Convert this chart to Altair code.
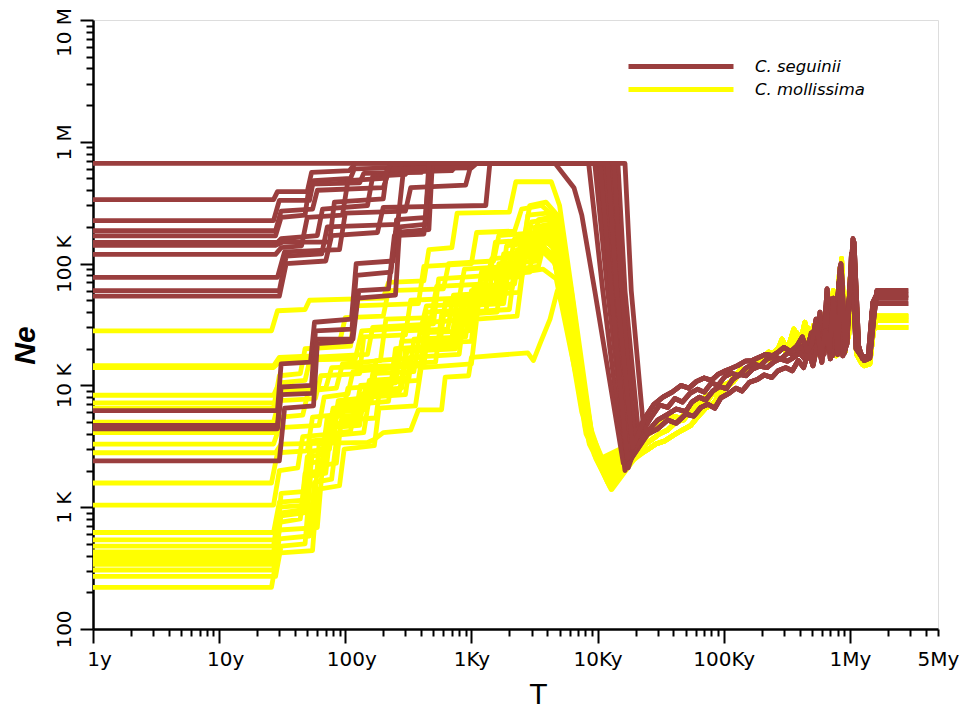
import altair as alt
import pandas as pd

BROWN = "#9A3E3E"
YELLOW = "#FFFF00"
SPECIES = ["C. seguinii", "C. mollissima"]

# ---- ancient (shared) parts of the trajectories: [T (years), Ne] ----
tail_s_a = [[25000,4200],[30000,5200],[36000,5800],[42000,6400],[50000,6100],[56000,7300],[64000,8000],[72000,7600],[82000,9000],[93000,9800],[105000,9400],[118000,11200],[134000,12300],[150000,12000],[170000,13600],[193000,14400],[220000,14000],[250000,15600],[280000,16500],[320000,15800],[360000,17000],[400000,18500],[440000,16500],[480000,24000],[520000,17000],[575000,30000],[610000,17500],[660000,62000],[720000,18000],[790000,40000],[840000,95000],[900000,19000],[960000,30000],[1060000,160000],[1160000,22000],[1260000,16500],[1420000,17000],[1520000,48000],[1620000,55000],[2900000,55000]]
tail_s_b = [[25000,4000],[30000,4400],[36000,5200],[42000,4900],[50000,5800],[58000,5600],[66000,6600],[75000,7000],[85000,6500],[95000,7900],[110000,8600],[125000,9500],[140000,9000],[160000,10600],[185000,11200],[210000,12200],[240000,11600],[270000,13200],[310000,14000],[350000,13200],[390000,16000],[430000,14000],[470000,19000],[510000,14500],[560000,23000],[600000,15500],[650000,45000],[700000,16500],[760000,25000],[820000,70000],[880000,17500],[950000,22000],[1030000,120000],[1120000,20000],[1250000,17000],[1400000,17500],[1500000,40000],[1580000,47000],[2900000,47000]]
tail_s_c = [[24000,5500],[28000,7000],[33000,8000],[39000,8800],[46000,10000],[53000,9500],[61000,10800],[70000,11500],[80000,11000],[90000,12300],[100000,13000],[115000,13800],[130000,14600],[148000,15800],[168000,16000],[190000,17000],[215000,18000],[245000,17600],[275000,19000],[300000,20500],[340000,19000],[380000,21000],[420000,25000],[460000,19000],[500000,22000],[540000,35000],[590000,17200],[640000,28000],[690000,19000],[740000,52000],[800000,18000],[860000,85000],[920000,20000],[1000000,60000],[1080000,150000],[1180000,19000],[1300000,16000],[1440000,16800],[1550000,36000],[1640000,60000],[2900000,60000]]
tail_s_d = [[24000,4600],[27000,5600],[31000,6900],[36000,6600],[41000,7800],[47000,7300],[54000,8600],[62000,9300],[70000,8800],[80000,10500],[90000,10000],[102000,11800],[116000,12600],[132000,12000],[150000,13900],[170000,15000],[195000,14500],[220000,16400],[250000,17300],[285000,16500],[325000,18600],[365000,17600],[410000,21000],[455000,17900],[495000,27000],[535000,18300],[580000,40000],[625000,18000],[680000,52000],[730000,17500],[790000,33000],[850000,100000],[910000,18500],[990000,45000],[1070000,140000],[1170000,20000],[1280000,16800],[1430000,17300],[1530000,42000],[1610000,52000],[2900000,52000]]

tail_m_a = [[24000,3800],[28000,4300],[33000,5000],[39000,5600],[46000,5400],[53000,6500],[61000,7000],[70000,7900],[80000,8600],[90000,8300],[100000,10000],[115000,10800],[130000,12500],[148000,13000],[168000,14600],[190000,15400],[215000,17500],[245000,16500],[275000,20000],[300000,22000],[340000,19000],[380000,27000],[420000,20000],[460000,30000],[500000,21000],[540000,33000],[590000,18500],[640000,40000],[690000,19000],[740000,60000],[800000,18000],[860000,110000],[920000,19000],[1000000,50000],[1080000,130000],[1180000,17000],[1300000,14500],[1440000,15000],[1550000,30000],[1640000,37000],[2900000,37000]]
tail_m_b = [[24000,2900],[29000,3300],[34000,3500],[40000,3900],[47000,4300],[55000,4700],[63000,5600],[72000,6500],[82000,7000],[93000,8400],[105000,9600],[120000,10800],[136000,12900],[155000,13800],[175000,15800],[200000,16600],[228000,18800],[260000,18000],[290000,24000],[320000,19500],[360000,29000],[400000,21000],[440000,33000],[480000,20500],[530000,26000],[570000,18000],[620000,30000],[670000,20000],[720000,45000],[780000,17500],[840000,75000],[900000,18500],[980000,26000],[1050000,100000],[1140000,19000],[1260000,15500],[1400000,16000],[1520000,28000],[1600000,30000],[2900000,30000]]
tail_m_c = [[24000,3300],[27000,3600],[31000,4000],[36000,4300],[42000,5000],[48000,5200],[55000,6200],[63000,7000],[72000,7100],[82000,8600],[94000,10200],[108000,9900],[122000,12000],[138000,13600],[156000,13100],[176000,15300],[200000,17000],[225000,16200],[255000,19000],[285000,21500],[315000,18500],[350000,26000],[390000,20500],[430000,28000],[470000,19500],[515000,31000],[560000,19000],[610000,36000],[660000,19500],[710000,50000],[770000,18500],[830000,90000],[890000,19000],[960000,40000],[1040000,115000],[1130000,18000],[1250000,15000],[1390000,15500],[1500000,26000],[1600000,34000],[2900000,34000]]

# ---- recent parts, C. seguinii ----
s01 = [[1,665000],[14000,665000],[16000,60000],[19500,3000]]
s02 = [[1,335000],[27,335000],[29,390000],[50,390000],[54,560000],[108,580000],[120,665000],[10000,665000],[12500,60000],[17000,2200]]
s03 = [[1,225000],[27,225000],[30,330000],[52,330000],[56,480000],[110,500000],[118,600000],[390,620000],[420,665000],[12000,665000],[14000,60000],[18500,2600]]
s04 = [[1,186000],[28,186000],[31,270000],[55,280000],[60,400000],[200,420000],[220,560000],[700,580000],[780,665000],[8500,665000],[11000,60000],[16500,2000]]
s05 = [[1,169000],[28,169000],[31,240000],[48,250000],[52,450000],[130,460000],[140,550000],[400,560000],[440,665000],[13000,665000],[15000,60000],[19000,3300]]
s06 = [[1,149000],[29,149000],[31,160000],[60,170000],[66,280000],[150,300000],[165,520000],[300,540000],[330,665000],[11000,665000],[13000,60000],[18000,2400]]
s07 = [[1,141000],[28,141000],[32,150000],[75,150000],[82,320000],[200,340000],[215,600000],[1000,610000],[1100,665000],[9500,665000],[12000,60000],[17500,2100]]
s08 = [[1,119000],[28,119000],[31,135000],[45,140000],[50,240000],[95,250000],[105,480000],[200,500000],[230,665000],[14500,665000],[16500,60000],[21000,4300]]
s09 = [[1,77000],[29,77000],[33,125000],[90,130000],[100,260000],[300,270000],[330,420000],[900,440000],[1000,665000],[12500,665000],[14500,60000],[20000,3600]]
s10 = [[1,60000],[30,60000],[34,115000],[65,120000],[72,200000],[260,210000],[290,600000],[450,610000],[480,665000],[4600,665000],[6500,420000],[7500,250000],[9500,60000],[16000,2300]]
s11 = [[1,54000],[30,54000],[34,100000],[70,105000],[78,170000],[180,180000],[200,290000],[1300,300000],[1400,665000],[13500,665000],[15500,60000],[19500,3900]]
s12 = [[1,6200],[29,6200],[31,15000],[53,15500],[57,33000],[112,35000],[122,100000],[240,105000],[255,230000],[450,240000],[480,665000],[11500,665000],[13500,60000],[18000,2800]]
s13 = [[1,4700],[29,4700],[31,9700],[54,10000],[58,28000],[113,29000],[122,80000],[230,85000],[250,180000],[460,190000],[490,665000],[10500,665000],[12800,60000],[17200,2500]]
s14 = [[1,4400],[29,4400],[31,8400],[55,8600],[59,24000],[115,24000],[128,60000],[220,62000],[245,170000],[420,175000],[470,665000],[16500,665000],[18500,60000],[23000,4800]]
s15 = [[1,2400],[30,2400],[33,6500],[56,6800],[60,22000],[112,23000],[125,52000],[250,55000],[270,200000],[430,210000],[460,665000],[12000,665000],[14200,60000],[19000,3100]]

# ---- recent parts, C. mollissima ----
m01 = [[1,28000],[26,28000],[29,41000],[48,42000],[52,50000],[200,52000],[220,70000],[420,72000],[460,130000],[700,135000],[770,260000],[2000,265000],[2250,470000],[4300,470000],[5000,300000],[6400,50000],[9000,4000],[11500,2200]]
m02 = [[1,14500],[27,14500],[30,17000],[55,17500],[60,22000],[90,22500],[100,36000],[200,37000],[220,60000],[600,62000],[660,100000],[1500,105000],[1650,170000],[3500,180000],[4800,160000],[6500,25000],[9000,3500],[11000,2000]]
m03 = [[1,14000],[27,14000],[31,16000],[120,16500],[135,28000],[400,30000],[440,45000],[1200,47000],[1350,90000],[2500,95000],[2800,250000],[4000,260000],[5000,180000],[6500,30000],[9500,2800],[12000,1600]]
m04 = [[1,8300],[27,8300],[30,10500],[48,11000],[53,17000],[150,18000],[165,30000],[500,32000],[550,75000],[1400,80000],[1550,150000],[2600,155000],[2900,300000],[3900,320000],[4800,250000],[6200,60000],[8500,5000],[10800,2400]]
m05 = [[1,7200],[28,7200],[31,9000],[70,9500],[78,14000],[240,14500],[260,20000],[700,21000],[780,38000],[1600,40000],[1800,120000],[3000,125000],[3400,200000],[4200,190000],[5500,70000],[8000,4500],[11500,1800]]
m06 = [[1,6500],[27,6500],[30,12000],[44,12500],[48,20000],[110,21000],[120,45000],[380,47000],[420,95000],[1000,100000],[1100,180000],[2200,185000],[2500,280000],[3600,300000],[4600,240000],[6000,70000],[8800,4000],[11200,2200]]
m07 = [[1,5000],[27,5000],[30,7500],[58,7800],[64,12000],[130,12500],[140,25000],[300,26000],[330,50000],[800,52000],[880,90000],[2000,95000],[2200,160000],[3800,170000],[4700,140000],[6200,40000],[8800,3600],[11800,1900]]
m08 = [[1,4100],[28,4100],[31,5500],[46,5700],[51,9000],[85,9500],[95,15000],[190,16000],[210,35000],[480,36000],[530,65000],[1300,68000],[1450,110000],[2700,115000],[3000,220000],[4100,230000],[5100,150000],[6700,25000],[9300,3000],[12200,1700]]
m09 = [[1,3300],[27,3300],[30,4500],[62,4700],[68,8000],[105,8500],[115,13000],[260,14000],[290,28000],[650,29000],[720,55000],[1700,58000],[1900,140000],[3300,150000],[3700,190000],[4500,170000],[5800,45000],[8300,4200],[11000,2300]]
m10 = [[1,2800],[28,2800],[31,3300],[150,3400],[170,3600],[200,4100],[330,4300],[380,6300],[580,6300],[620,11700],[950,12000],[1000,17000],[2800,18500],[3100,16000],[3500,22000],[4200,35000],[4800,60000],[5500,40000],[7500,6000],[10500,2500]]
m11 = [[1,1580],[26,1580],[29,2800],[50,2900],[55,5500],[95,5800],[105,9500],[230,10000],[250,20000],[560,21000],[620,48000],[1500,50000],[1650,100000],[3100,105000],[3500,170000],[4300,160000],[5600,40000],[8100,4000],[11000,2100]]
m12 = [[1,1040],[27,1040],[30,2000],[42,2100],[46,3800],[80,4000],[88,7500],[160,8000],[175,16000],[400,17000],[440,40000],[1100,42000],[1200,85000],[2300,90000],[2500,150000],[3700,160000],[4600,130000],[6000,30000],[8600,3300],[11600,1800]]
m13 = [[1,620],[27,620],[30,1100],[50,1150],[55,2900],[75,3000],[82,6000],[140,6300],[155,11000],[320,11500],[350,24000],[900,25000],[1000,60000],[2100,63000],[2300,130000],[3600,140000],[4400,120000],[5800,35000],[8400,3800],[11300,2000]]
m14 = [[1,540],[28,540],[31,850],[47,900],[52,2300],[68,2400],[74,4800],[125,5000],[138,8500],[270,9000],[300,19000],[750,20000],[830,45000],[1800,47000],[2000,100000],[3300,105000],[3800,180000],[4400,170000],[5700,45000],[8200,4100],[10800,2200]]
m15 = [[1,480],[27,480],[30,1000],[57,1050],[62,3300],[80,3400],[88,7000],[160,7300],[175,14000],[420,14500],[460,33000],[1100,35000],[1200,75000],[2500,78000],[2800,160000],[3900,170000],[4800,120000],[6300,25000],[9000,3100],[12000,1700]]
m16 = [[1,430],[27,430],[30,750],[44,800],[48,1900],[64,2000],[70,4000],[110,4200],[122,7000],[220,7400],[245,15000],[520,15500],[580,38000],[1300,40000],[1450,80000],[2900,85000],[3200,200000],[4100,210000],[5000,150000],[6600,30000],[9300,2900],[12400,1500]]
m17 = [[1,400],[28,400],[31,1300],[49,1350],[53,3500],[72,3600],[80,6500],[150,6800],[165,12500],[350,13000],[390,27000],[950,28000],[1050,65000],[2200,68000],[2450,140000],[3500,150000],[4500,110000],[5900,28000],[8600,3400],[11700,1800]]
m18 = [[1,370],[27,370],[30,650],[60,680],[66,2200],[85,2300],[93,5200],[175,5400],[190,10500],[380,11000],[420,22000],[1000,23000],[1100,55000],[2400,58000],[2650,120000],[3700,125000],[4600,100000],[6000,25000],[8800,3600],[11400,1900]]
m19 = [[1,340],[28,340],[31,900],[45,950],[50,2600],[66,2700],[72,5500],[120,5700],[132,10000],[250,10500],[280,23000],[700,24000],[770,52000],[1600,54000],[1800,115000],[3000,120000],[3400,230000],[4200,240000],[5100,170000],[6700,30000],[9400,2700],[12800,1400]]
m20 = [[1,305],[27,305],[30,550],[52,580],[57,1600],[78,1700],[86,3900],[140,4100],[155,8000],[300,8400],[330,17000],[800,18000],[880,40000],[2000,42000],[2200,90000],[3400,95000],[3800,150000],[4500,140000],[5800,40000],[8300,4000],[11200,2100]]
m21 = [[1,270],[28,270],[31,480],[48,500],[53,1800],[70,1900],[77,4500],[130,4700],[143,9000],[280,9500],[310,20000],[750,21000],[830,48000],[1700,50000],[1900,110000],[3200,115000],[3600,200000],[4300,195000],[5300,120000],[6900,22000],[9700,2500],[13000,1400]]
m22 = [[1,220],[26,220],[29,420],[55,440],[60,1400],[90,1500],[98,3000],[170,3200],[185,6500],[360,6800],[400,14000],[1000,15000],[1100,35000],[2300,37000],[2550,85000],[3700,90000],[4700,75000],[6100,20000],[8900,3200],[12000,1700]]

seguinii = [(s01, tail_s_a), (s02, tail_s_b), (s03, tail_s_c), (s04, tail_s_d), (s05, tail_s_a),
            (s06, tail_s_b), (s07, tail_s_c), (s08, tail_s_d), (s09, tail_s_a), (s10, tail_s_b),
            (s11, tail_s_c), (s12, tail_s_d), (s13, tail_s_a), (s14, tail_s_b), (s15, tail_s_c)]
mollissima = [(m01, tail_m_a), (m02, tail_m_b), (m03, tail_m_c), (m04, tail_m_a), (m05, tail_m_b),
              (m06, tail_m_c), (m07, tail_m_a), (m08, tail_m_b), (m09, tail_m_c), (m10, tail_m_a),
              (m11, tail_m_b), (m12, tail_m_c), (m13, tail_m_a), (m14, tail_m_b), (m15, tail_m_c),
              (m16, tail_m_a), (m17, tail_m_b), (m18, tail_m_c), (m19, tail_m_a), (m20, tail_m_b),
              (m21, tail_m_c), (m22, tail_m_a)]

# axis ticks / labels
x_major = [1, 10, 100, 1000, 10000, 100000, 1000000, 5000000]
x_major_labels = ["1y", "10y", "100y", "1Ky", "10Ky", "100Ky", "1My", "5My"]
y_major = [100, 1000, 10000, 100000, 1000000, 10000000]
y_major_labels = ["100", "1 K", "10 K", "100 K", "1 M", "10 M"]


def rows(groups, species, prefix):
    out = []
    for k, (recent, tail) in enumerate(groups):
        for i, (t, ne) in enumerate(recent + tail):
            out.append({"T": t, "Ne": ne, "line": f"{prefix}{k}", "idx": i, "species": species})
    return out


df_s = pd.DataFrame(rows(seguinii, SPECIES[0], "s"))
df_m = pd.DataFrame(rows(mollissima, SPECIES[1], "m"))

x_ticks = [m * 10 ** e for e in range(7) for m in range(1, 10) if m * 10 ** e <= 5000000]
y_ticks = [m * 10 ** e for e in range(2, 8) for m in range(1, 10) if m * 10 ** e <= 10000000]


def label_expr(vals, labels):
    s = "''"
    for v, l in zip(reversed(vals), reversed(labels)):
        s = f"datum.value == {v} ? '{l}' : ({s})"
    return s


pow10 = "[1,10,100,1000,10000,100000,1000000,10000000]"
is_major = f"indexof({pow10}, datum.value) >= 0"

x_axis = alt.Axis(
    values=x_ticks, labelExpr=label_expr(x_major, x_major_labels), title="T",
    tickSize={"condition": {"test": is_major, "value": 14}, "value": 7},
    tickColor="black", tickWidth=2, domainColor="black", domainWidth=2.5,
    labelOffset={"condition": {"test": "datum.value < 1000", "value": 6}, "value": 0},
    labelPadding={"condition": {"test": "datum.value == 5000000", "value": 13}, "value": 6},
    labelFont="DejaVu Sans", labelFontSize=20, labelOverlap=False, labelFlush=False,
    labelColor="black",
    titleFont="Liberation Sans", titleFontSize=30, titleFontWeight="normal", titleColor="black",
    titleX=445, titleY=50, titleBaseline="top", titleAlign="center",
    grid=False,
)
y_axis = alt.Axis(
    values=y_ticks, labelExpr=label_expr(y_major, y_major_labels), title="Ne",
    tickSize={"condition": {"test": is_major, "value": 13}, "value": 7},
    tickColor="black", tickWidth=2, domainColor="black", domainWidth=2.5,
    labelOffset={"condition": {"test": "datum.value >= 10000000", "value": 12}, "value": 0},
    labelAngle=270, labelAlign="center", labelBaseline="bottom",
    labelFont="DejaVu Sans", labelFontSize=20, labelPadding=6, labelOverlap=False, labelFlush=False,
    labelColor="black",
    titleFont="Liberation Sans", titleFontSize=30, titleFontStyle="italic", titleFontWeight="bold",
    titleColor="black",
    titleX=-53, titleY=325, titleAlign="center", titleBaseline="bottom",
    grid=False,
)

color = alt.Color(
    "species:N",
    scale=alt.Scale(domain=SPECIES, range=[BROWN, YELLOW]),
    legend=alt.Legend(
        title=None, orient="none", legendX=575, legendY=33.5, symbolType="M-5,0L5,0",
        symbolSize=441, symbolStrokeWidth=5, symbolOpacity=1,
        labelFont="DejaVu Sans", labelFontStyle="italic", labelFontSize=16.5,
        labelColor="black", labelOffset=61, rowPadding=0, padding=0,
    ),
)

x_enc = alt.X("T:Q", scale=alt.Scale(type="log", domain=[1, 5000000], nice=False), axis=x_axis)
y_enc = alt.Y("Ne:Q", scale=alt.Scale(type="log", domain=[100, 10000000], nice=False), axis=y_axis)

yellow = alt.Chart(df_m).mark_line(strokeWidth=4.8, strokeJoin="round", clip=True).encode(
    x=x_enc, y=y_enc, color=color, detail="line:N", order="idx:Q"
)
brown = alt.Chart(df_s).mark_line(strokeWidth=4.8, strokeJoin="round", clip=True).encode(
    x=x_enc, y=y_enc, color=color, detail="line:N", order="idx:Q"
)

chart = alt.layer(yellow, brown).properties(
    width=845, height=609,
    autosize=alt.AutoSizeParams(type="none"),
    padding={"left": 93, "top": 20, "right": 23, "bottom": 82},
).configure_view(
    stroke="black", strokeWidth=2.5
).configure(background="white")

chart.save("out.html", embed_options={"renderer": "svg", "actions": False})
